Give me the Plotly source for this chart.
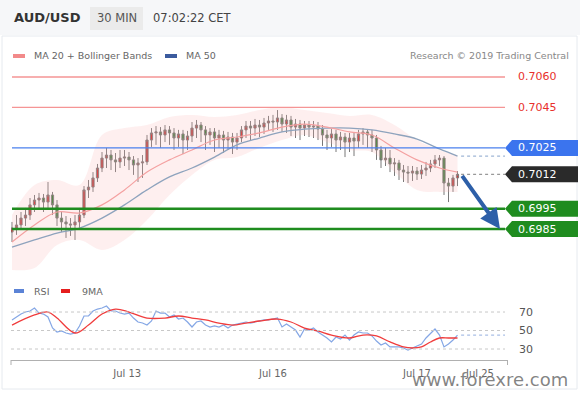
import plotly.graph_objects as go

# ---------------- data ----------------
candle_open = [0.69835, 0.69855, 0.69870, 0.69904, 0.69919, 0.69969, 0.69993, 0.70003, 0.69983, 0.70018,
               0.69969, 0.69904, 0.69885, 0.69875, 0.69870, 0.69885, 0.69919, 0.70043, 0.70057, 0.70102,
               0.70151, 0.70200, 0.70215, 0.70191, 0.70181, 0.70200, 0.70205, 0.70191, 0.70166, 0.70176,
               0.70181, 0.70289, 0.70324, 0.70329, 0.70314, 0.70339, 0.70324, 0.70299, 0.70319, 0.70289,
               0.70309, 0.70348, 0.70363, 0.70339, 0.70314, 0.70329, 0.70299, 0.70314, 0.70289, 0.70304,
               0.70279, 0.70299, 0.70339, 0.70358, 0.70348, 0.70363, 0.70353, 0.70373, 0.70383, 0.70378,
               0.70398, 0.70368, 0.70388, 0.70353, 0.70368, 0.70348, 0.70363, 0.70353, 0.70358, 0.70343,
               0.70314, 0.70299, 0.70319, 0.70289, 0.70304, 0.70279, 0.70299, 0.70284, 0.70319, 0.70329,
               0.70314, 0.70299, 0.70240, 0.70191, 0.70200, 0.70171, 0.70176, 0.70141, 0.70131, 0.70126,
               0.70136, 0.70121, 0.70141, 0.70151, 0.70171, 0.70191, 0.70200, 0.70077, 0.70062, 0.70102]
candle_high = [0.69885, 0.69919, 0.69934, 0.69954, 0.70003, 0.70018, 0.70028, 0.70023, 0.70082, 0.70033,
               0.69993, 0.69934, 0.69914, 0.69904, 0.69919, 0.69954, 0.70062, 0.70092, 0.70131, 0.70171,
               0.70230, 0.70250, 0.70240, 0.70225, 0.70240, 0.70240, 0.70230, 0.70210, 0.70200, 0.70215,
               0.70314, 0.70348, 0.70358, 0.70353, 0.70363, 0.70358, 0.70348, 0.70339, 0.70339, 0.70334,
               0.70378, 0.70388, 0.70378, 0.70358, 0.70348, 0.70348, 0.70339, 0.70334, 0.70329, 0.70324,
               0.70324, 0.70358, 0.70383, 0.70383, 0.70393, 0.70388, 0.70398, 0.70408, 0.70413, 0.70437,
               0.70417, 0.70413, 0.70408, 0.70393, 0.70388, 0.70383, 0.70383, 0.70383, 0.70378, 0.70363,
               0.70339, 0.70343, 0.70339, 0.70329, 0.70324, 0.70324, 0.70324, 0.70339, 0.70348, 0.70343,
               0.70339, 0.70314, 0.70260, 0.70250, 0.70240, 0.70200, 0.70191, 0.70166, 0.70161, 0.70161,
               0.70156, 0.70166, 0.70181, 0.70191, 0.70215, 0.70215, 0.70210, 0.70102, 0.70117, 0.70136]
candle_low = [0.69786, 0.69821, 0.69845, 0.69865, 0.69895, 0.69934, 0.69944, 0.69934, 0.69954, 0.69919,
              0.69865, 0.69835, 0.69806, 0.69816, 0.69796, 0.69855, 0.69904, 0.70003, 0.70033, 0.70082,
              0.70131, 0.70151, 0.70141, 0.70131, 0.70151, 0.70161, 0.70141, 0.70117, 0.70082, 0.70102,
              0.70166, 0.70255, 0.70265, 0.70250, 0.70279, 0.70265, 0.70240, 0.70255, 0.70220, 0.70240,
              0.70279, 0.70299, 0.70279, 0.70240, 0.70265, 0.70230, 0.70250, 0.70225, 0.70240, 0.70220,
              0.70240, 0.70279, 0.70299, 0.70289, 0.70309, 0.70304, 0.70319, 0.70339, 0.70329, 0.70339,
              0.70329, 0.70324, 0.70309, 0.70299, 0.70289, 0.70309, 0.70304, 0.70299, 0.70289, 0.70260,
              0.70240, 0.70255, 0.70230, 0.70240, 0.70205, 0.70230, 0.70210, 0.70250, 0.70265, 0.70250,
              0.70230, 0.70191, 0.70151, 0.70161, 0.70131, 0.70112, 0.70092, 0.70082, 0.70077, 0.70087,
              0.70092, 0.70097, 0.70112, 0.70131, 0.70151, 0.70161, 0.70018, 0.69983, 0.70033, 0.70062]
candle_close = [0.69855, 0.69870, 0.69904, 0.69919, 0.69969, 0.69993, 0.70003, 0.69983, 0.70018, 0.69969,
                0.69904, 0.69885, 0.69875, 0.69870, 0.69885, 0.69919, 0.70043, 0.70057, 0.70102, 0.70151,
                0.70200, 0.70215, 0.70191, 0.70181, 0.70200, 0.70205, 0.70191, 0.70166, 0.70176, 0.70181,
                0.70289, 0.70324, 0.70329, 0.70314, 0.70339, 0.70324, 0.70299, 0.70319, 0.70289, 0.70309,
                0.70348, 0.70363, 0.70339, 0.70314, 0.70329, 0.70299, 0.70314, 0.70289, 0.70304, 0.70279,
                0.70299, 0.70339, 0.70358, 0.70348, 0.70363, 0.70353, 0.70373, 0.70383, 0.70378, 0.70398,
                0.70368, 0.70388, 0.70353, 0.70368, 0.70348, 0.70363, 0.70353, 0.70358, 0.70343, 0.70314,
                0.70299, 0.70319, 0.70289, 0.70304, 0.70279, 0.70299, 0.70284, 0.70319, 0.70329, 0.70314,
                0.70299, 0.70240, 0.70191, 0.70200, 0.70171, 0.70176, 0.70141, 0.70131, 0.70126, 0.70136,
                0.70121, 0.70141, 0.70151, 0.70171, 0.70191, 0.70200, 0.70077, 0.70062, 0.70102, 0.70120]
candle_idx = list(range(len(candle_close)))

ind_idx = [0, 5, 10, 15, 20, 25, 30, 35, 40, 45, 50, 55, 60, 65, 70, 75, 80, 85, 90, 95, 99]
ma20 = [0.69786, 0.69870, 0.69934, 0.69929, 0.69969, 0.70043, 0.70131, 0.70191, 0.70240, 0.70289,
        0.70304, 0.70324, 0.70353, 0.70368, 0.70353, 0.70329, 0.70314, 0.70250, 0.70191, 0.70151, 0.70131]
bb_upper = [0.69919, 0.70067, 0.70092, 0.70067, 0.70314, 0.70348, 0.70363, 0.70403, 0.70413, 0.70403,
            0.70413, 0.70437, 0.70452, 0.70437, 0.70422, 0.70408, 0.70413, 0.70363, 0.70289, 0.70240, 0.70215]
bb_lower = [0.69648, 0.69658, 0.69771, 0.69796, 0.69747, 0.69796, 0.69895, 0.70018, 0.70117, 0.70191,
            0.70205, 0.70250, 0.70289, 0.70314, 0.70279, 0.70240, 0.70230, 0.70131, 0.70043, 0.70033, 0.70033]
ma50 = [0.69761, 0.69796, 0.69830, 0.69855, 0.69904, 0.69969, 0.70043, 0.70107, 0.70151, 0.70205,
        0.70265, 0.70299, 0.70329, 0.70343, 0.70348, 0.70348, 0.70339, 0.70319, 0.70294, 0.70245, 0.70210]

rsi = [61.4, 64.6, 67.8, 70.0, 71.1, 74.3, 68.9, 67.8, 64.6, 52.7,
       48.4, 49.5, 47.3, 46.2, 47.3, 54.9, 65.7, 65.7, 71.1, 73.2,
       74.3, 76.5, 71.1, 71.1, 68.9, 67.8, 68.9, 63.5, 59.2, 58.1,
       55.9, 60.3, 71.1, 68.9, 68.9, 64.6, 66.8, 62.4, 63.5, 59.2,
       53.8, 59.2, 60.3, 55.9, 53.8, 54.9, 53.8, 55.9, 52.7, 55.9,
       57.0, 58.1, 59.2, 58.1, 59.2, 60.3, 61.4, 61.4, 62.4, 63.5,
       53.8, 57.0, 53.8, 50.5, 43.0, 51.6, 50.5, 52.7, 48.4, 45.1,
       41.9, 37.6, 43.0, 40.8, 45.1, 39.7, 45.1, 48.4, 47.3, 47.3,
       44.1, 38.6, 34.3, 36.5, 32.2, 32.2, 32.2, 31.1, 28.9, 31.1,
       33.2, 35.4, 41.9, 47.3, 51.6, 45.1, 32.2, 35.4, 39.7, 45.1]
rsi_ma_idx = [0, 5, 8, 10, 14, 17, 20, 23, 26, 30, 34, 37, 40, 43, 46, 49, 52, 55, 59, 62,
              65, 68, 71, 75, 78, 81, 84, 87, 89, 91, 93, 95, 97, 99]
rsi_ma = [55.9, 66.8, 70.0, 63.5, 47.3, 55.9, 67.8, 73.2, 70.0, 63.5, 63.5, 65.7, 63.5, 61.4, 58.1,
          55.9, 58.1, 60.3, 62.4, 59.2, 52.7, 49.5, 45.1, 41.9, 45.1, 44.1, 37.6, 32.2, 31.1, 32.2,
          37.6, 41.9, 41.9, 41.9]

res_levels = [0.7060, 0.7045]
pivot_level = 0.7025
last_price = 0.7012
sup_levels = [0.6995, 0.6985]
rsi_levels = [70, 50, 30]

tick_vals = [25.6, 58.0, 90.0, 104.0]
tick_text = ["Jul 13", "Jul 16", "Jul 17", "Jul 25"]

# ---------------- layout helpers ----------------
W, H = 580, 393
FONT = "DejaVu Sans"
PX_X0, PX_X1 = 11, 508           # x-axis pixel span
STEP, FIRST = 4.5, 12            # candle spacing in px, first candle px
PRICE_TOP, PRICE_BOT = 65, 275
P_TOP = 0.70600 + 12 / 20270
P_BOT = 0.70600 - 198 / 20270
RSI_TOP, RSI_BOT = 300, 360


def px(xp):
    return xp / W


def py(yp):
    return 1 - yp / H


def idx_of_px(xp):
    return (xp - FIRST) / STEP


price_per_px = (P_TOP - P_BOT) / (PRICE_BOT - PRICE_TOP)

fig = go.Figure()

# Bollinger band
fig.add_trace(go.Scatter(x=ind_idx, y=bb_lower, mode="lines", line=dict(width=0, shape="spline"),
                         hoverinfo="skip", showlegend=False))
fig.add_trace(go.Scatter(x=ind_idx, y=bb_upper, mode="lines", line=dict(width=0, shape="spline"),
                         fill="tonexty", fillcolor="rgba(250,180,180,0.22)", hoverinfo="skip", showlegend=False))
# MA50
fig.add_trace(go.Scatter(x=ind_idx, y=ma50, mode="lines",
                         line=dict(color="#8ea3bd", width=1.3, shape="spline"), hoverinfo="skip", showlegend=False))
# MA20
fig.add_trace(go.Scatter(x=ind_idx, y=ma20, mode="lines",
                         line=dict(color="#f4a0a0", width=1.2, shape="spline"), hoverinfo="skip", showlegend=False))
# candles
fig.add_trace(go.Candlestick(
    x=candle_idx, open=candle_open, high=candle_high, low=candle_low, close=candle_close,
    increasing=dict(line=dict(color="#787878", width=1), fillcolor="#d42828"),
    decreasing=dict(line=dict(color="#787878", width=1), fillcolor="#2e7d2e"),
    whiskerwidth=0, hoverinfo="skip", showlegend=False))

# RSI
fig.add_trace(go.Scatter(x=candle_idx, y=rsi, mode="lines", xaxis="x2", yaxis="y2",
                         line=dict(color="rgba(110,150,225,0.85)", width=1.2), hoverinfo="skip", showlegend=False))
fig.add_trace(go.Scatter(x=rsi_ma_idx, y=rsi_ma, mode="lines", xaxis="x2", yaxis="y2",
                         line=dict(color="#f03c3c", width=1.3, shape="spline"), hoverinfo="skip", showlegend=False))

shapes = []
annotations = []

# header band and frame
shapes.append(dict(type="rect", xref="paper", yref="paper", x0=0, x1=1, y0=py(35), y1=1,
                   fillcolor="#f6f7f9", line=dict(width=0), layer="below"))
shapes.append(dict(type="rect", xref="paper", yref="paper", x0=px(2), x1=px(577), y0=py(389), y1=py(36),
                   fillcolor="rgba(0,0,0,0)", line=dict(color="#e6eaef", width=1), layer="below"))
shapes.append(dict(type="rect", xref="paper", yref="paper", x0=px(90), x1=px(143), y0=py(30), y1=py(7),
                   fillcolor="#ebebeb", line=dict(width=0), layer="below"))

line_end = idx_of_px(505)
last_i = candle_idx[-1]

# resistance lines
for lv in res_levels:
    shapes.append(dict(type="line", xref="x", yref="y", x0=0, x1=line_end, y0=lv, y1=lv,
                       line=dict(color="#f59595", width=1.3)))
    annotations.append(dict(x=px(516), y=lv, xref="paper", yref="y", xanchor="left", yanchor="middle",
                            text=f"{lv:.4f}", showarrow=False, font=dict(family=FONT, size=11, color="#e8302c")))
# pivot line
shapes.append(dict(type="line", xref="x", yref="y", x0=0, x1=line_end, y0=pivot_level, y1=pivot_level,
                   line=dict(color="#4a80ee", width=1.3)))
# support lines
for lv in sup_levels:
    shapes.append(dict(type="line", xref="x", yref="y", x0=0, x1=line_end, y0=lv, y1=lv,
                       line=dict(color="#1f8c1f", width=2.5)))
# dotted continuations
shapes.append(dict(type="line", xref="x", yref="y", x0=last_i + 0.8, x1=line_end, y0=ma50[-1], y1=ma50[-1],
                   line=dict(color="#9fb6d6", width=1.2, dash="dot")))
shapes.append(dict(type="line", xref="x", yref="y", x0=last_i + 0.8, x1=line_end, y0=last_price, y1=last_price,
                   line=dict(color="#999999", width=1.2, dash="dot")))

# tags
hh = 8 * price_per_px
tx0, tx1, tx2 = px(505), px(512), px(578)


def tag(level, color):
    path = (f"M {tx0},{level} L {tx1},{level + hh} L {tx2},{level + hh} "
            f"L {tx2},{level - hh} L {tx1},{level - hh} Z")
    shapes.append(dict(type="path", xref="paper", yref="y", path=path, fillcolor=color, line=dict(width=0)))
    annotations.append(dict(x=px(516), y=level, xref="paper", yref="y", xanchor="left", yanchor="middle",
                            text=f"{level:.4f}", showarrow=False, font=dict(family=FONT, size=11, color="white")))


tag(pivot_level, "#3b74ee")
tag(last_price, "#2a2a2a")
for lv in sup_levels:
    tag(lv, "#1f8c1f")

# arrow
annotations.append(dict(x=idx_of_px(500), y=sup_levels[1], xref="x", yref="y",
                        ax=last_i + 0.8, ay=last_price, axref="x", ayref="y",
                        showarrow=True, arrowhead=2, arrowsize=1, arrowwidth=4, arrowcolor="#2d5fa8", text=""))

# RSI grid lines and labels
for lv in rsi_levels:
    shapes.append(dict(type="line", xref="x2", yref="y2", x0=idx_of_px(11), x1=line_end, y0=lv, y1=lv,
                       line=dict(color="#c8c8c8", width=1, dash="dot")))
    annotations.append(dict(x=px(517), y=lv, xref="paper", yref="y2", xanchor="left", yanchor="middle",
                            text=str(lv), showarrow=False, font=dict(family=FONT, size=11, color="#555")))
shapes.append(dict(type="line", xref="x2", yref="y2", x0=last_i + 0.8, x1=line_end, y0=rsi[-1], y1=rsi[-1],
                   line=dict(color="#a9bfe6", width=1.2, dash="dot")))
# axis end ticks
for xp in (11, 507.5):
    shapes.append(dict(type="line", xref="paper", yref="paper", x0=px(xp), x1=px(xp), y0=py(360), y1=py(365),
                       line=dict(color="#b0b0b0", width=1)))

# header texts
annotations += [
    dict(x=px(12), y=py(18), xref="paper", yref="paper", xanchor="left", yanchor="middle", showarrow=False,
         text="<b>AUD/USD</b>", font=dict(family=FONT, size=13, color="#333")),
    dict(x=px(116.5), y=py(18), xref="paper", yref="paper", xanchor="center", yanchor="middle", showarrow=False,
         text="30 MIN", font=dict(family=FONT, size=11.5, color="#555")),
    dict(x=px(151), y=py(18), xref="paper", yref="paper", xanchor="left", yanchor="middle", showarrow=False,
         text="07:02:22 CET", font=dict(family=FONT, size=11.5, color="#444")),
    dict(x=px(32), y=py(56), xref="paper", yref="paper", xanchor="left", yanchor="middle", showarrow=False,
         text="MA 20 + Bollinger Bands", font=dict(family=FONT, size=9.5, color="#666")),
    dict(x=px(184), y=py(56), xref="paper", yref="paper", xanchor="left", yanchor="middle", showarrow=False,
         text="MA 50", font=dict(family=FONT, size=9.5, color="#666")),
    dict(x=px(571), y=py(56), xref="paper", yref="paper", xanchor="right", yanchor="middle", showarrow=False,
         text="Research © 2019 Trading Central", font=dict(family=FONT, size=9.5, color="#888")),
    dict(x=px(32), y=py(291), xref="paper", yref="paper", xanchor="left", yanchor="middle", showarrow=False,
         text="RSI", font=dict(family=FONT, size=9.5, color="#666")),
    dict(x=px(80), y=py(291), xref="paper", yref="paper", xanchor="left", yanchor="middle", showarrow=False,
         text="9MA", font=dict(family=FONT, size=9.5, color="#666")),
    dict(x=px(570), y=py(379), xref="paper", yref="paper", xanchor="right", yanchor="middle", showarrow=False,
         text="www.forexre.com", font=dict(family=FONT, size=18, color="rgba(110,110,110,0.85)")),
]
# legend swatches
for (x0, x1, yc, col) in [(13, 25, 56, "#f28a8a"), (165, 177, 56, "#3b5b9e"),
                          (14, 24, 291, "#5b83d6"), (61, 70, 291, "#e51e1e")]:
    shapes.append(dict(type="rect", xref="paper", yref="paper", x0=px(x0), x1=px(x1),
                       y0=py(yc + 2), y1=py(yc - 2), fillcolor=col, line=dict(width=0)))

fig.update_layout(
    width=W, height=H, margin=dict(l=0, r=0, t=0, b=0),
    paper_bgcolor="white", plot_bgcolor="rgba(0,0,0,0)",
    showlegend=False, hovermode=False,
    xaxis=dict(domain=[px(PX_X0), px(PX_X1)], range=[idx_of_px(PX_X0), idx_of_px(PX_X1)], visible=False,
               anchor="y", rangeslider=dict(visible=False)),
    xaxis2=dict(domain=[px(PX_X0), px(PX_X1)], range=[idx_of_px(PX_X0), idx_of_px(PX_X1)], matches="x",
                anchor="y2", showline=True, linecolor="#b0b0b0", linewidth=1, showgrid=False, zeroline=False,
                tickvals=tick_vals, ticktext=tick_text, ticks="", ticklabelstandoff=4,
                tickfont=dict(family=FONT, size=10, color="#666")),
    yaxis=dict(domain=[py(PRICE_BOT), py(PRICE_TOP)], range=[P_BOT, P_TOP], visible=False),
    yaxis2=dict(domain=[py(RSI_BOT), py(RSI_TOP)], range=[18.1, 83.0], visible=False),
    shapes=shapes, annotations=annotations,
)

fig.write_html("out.html", config={"displayModeBar": False},
               post_script="document.body.style.margin='0';document.body.style.overflow='hidden';")
